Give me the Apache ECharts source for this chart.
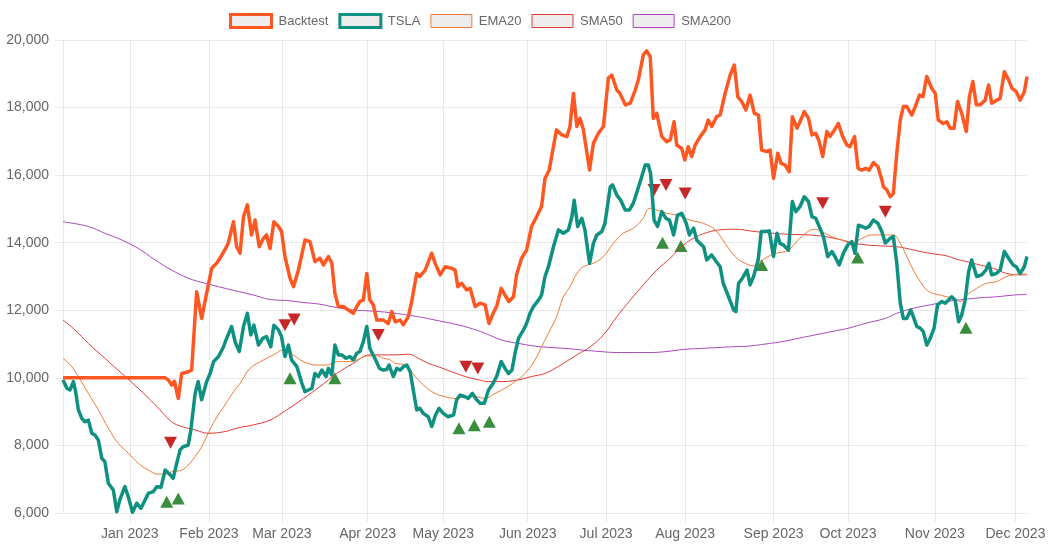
<!DOCTYPE html>
<html>
<head>
<meta charset="utf-8">
<script src="https://cdn.jsdelivr.net/npm/echarts@6/dist/echarts.min.js"></script>
<style>
  html, body { margin: 0; padding: 0; background: #fff; }
  #main { width: 1051px; height: 550px; }
</style>
</head>
<body>
<div id="main"></div>
<script>
// x = trading day index (0 = 6 Dec 2022 ... 251 = 6 Dec 2023)
var monthPos = [17.4, 38, 57, 79.3, 99, 121, 141.4, 162, 185, 204.4, 227, 248];
var monthLabels = ['Jan 2023', 'Feb 2023', 'Mar 2023', 'Apr 2023', 'May 2023', 'Jun 2023',
                   'Jul 2023', 'Aug 2023', 'Sep 2023', 'Oct 2023', 'Nov 2023', 'Dec 2023'];

var backtest = [[0,10000],[26.6,10000],[27.4,9940],[28.3,9790],[29,9900],[30,9390],[30.9,10130],[32.6,10180],[33.5,10230],[34.8,12550],[36.1,11760],[37.4,12500],[38.7,13240],[40,13390],
  [41.2,13600],[42.2,13800],[43,13980],[44.4,14620],[45.2,13880],[46.1,13690],[47,14770],[48,15120],[49.1,14230],[50,14670],[51.1,13880],[52.2,14130],[53,14230],[53.9,13830],[54.9,14620],[56.1,14480],[56.9,14330],[57.8,13590],[59.1,12950],[60,12700],[61.3,13190],[63,14080],[64.3,14030],[65.6,13440],[66.9,13540],[67.8,13340],[69.1,13590],[70,13390],[70.8,12500],[71.7,12110],[73,12110],[74.3,12010],[75.6,11910],[76.5,12110],[77.3,12260],[78.2,12300],[79.1,13090],[79.9,12300],[80.8,12160],[81.7,11710],[83.4,11710],
  [84.7,11610],[85.6,11960],[86.5,11660],[87.8,11710],[88.6,11570],[89.9,11810],[90.7,12210],[92.1,13090],[92.9,13000],[94.3,13190],[96,13690],[96.9,13390],[98.2,13050],[99.5,13290],[101.2,13240],[102.1,13190],[102.8,12700],[103.8,12800],[105.1,12600],[106,12650],[107.3,12110],[108.6,12210],[109.9,12160],[110.9,11610],[112,11910],[112.9,12110],[114.1,12650],[115.1,12450],[116.1,12260],[117.3,12400],[118.1,13050],[119.4,13540],[120.7,13780],[122,14480],[123.3,14770],[124.6,15070],[125.5,15900],[126.6,16150],[127.3,16600],
  [128.5,17340],[129.9,17190],[131.2,17140],[132,17440],[132.9,18420],[133.8,17440],[134.6,17680],[135.5,17340],[137.1,16150],[138.1,16940],[139.4,17240],[140.7,17440],[142,18870],[142.9,18960],[144.2,18520],[145,18420],[146.4,18080],[147.7,18130],[149,18520],[149.8,18820],[151.1,19560],[152,19680],[152.9,19510],[153.7,17680],[154.6,17830],[155.9,17140],[157.2,16990],[158.1,17040],[159.1,17580],[159.8,16890],[161.1,16790],[161.9,16450],[162.8,16840],[163.7,16550],[164.6,16890],[165.9,17140],[167.2,17340],[168,17630],[168.9,17440],[170.2,17730],
  [171.1,17780],[172.4,18420],[173.7,18960],[174.8,19260],[175.7,18320],[176.7,18180],[177.8,17930],[178.9,18370],[180,17830],[181.1,17780],[181.9,16740],[183.2,16700],[184.1,16740],[185,15910],[186.1,16650],[187,16350],[188,16300],[189.1,16100],[189.9,17730],[191.1,17390],[191.9,17580],[193,17880],[194.1,17680],[195,17190],[196,17240],[196.9,16990],[197.8,16550],[198.9,17290],[199.7,17140],[200.6,17290],[201.9,17530],[203,17140],[204.1,16890],[204.9,16840],[206.1,17140],[207,16200],[208,16150],[209,16200],[209.9,16150],[211,16370],[212.2,16250],[213.2,15860],
  [213.6,15660],[214.5,15560],[215.4,15360],[216.2,15460],[217.1,16650],[218,17630],[218.8,18030],[219.7,18030],[221,17780],[221.9,18030],[223,18370],[223.9,18320],[224.9,18920],[226.2,18570],[227.1,18420],[227.9,17630],[229.2,17530],[230.1,17580],[231,17390],[232,17390],[232.9,18180],[234,17830],[235.2,17290],[236,18320],[236.9,18770],[237.8,18080],[238.8,18080],[240.1,18220],[241,18670],[241.8,18130],[243.1,18220],[244,18270],[245.1,19060],[246.2,18820],[247.1,18570],[248.2,18470],[249.2,18220],[250.3,18470],[251,18920]];

var tsla = [[0,9940],[1,9690],[1.8,9640],[2.7,9890],[3.3,9590],[4,9050],[4.9,8800],[5.7,8700],[6.6,8750],[7.5,8360],[8.3,8310],[9.2,8160],[10.1,7620],[10.9,7520],[11.8,6880],[13.1,6680],[14,6040],[14.8,6390],[16.1,6780],[17,6480],[18.1,6020],[19.2,6290],[20.3,6140],[21.4,6390],[22.2,6580],[23.5,6630],[24.4,6780],[25.5,6760],[26.6,7270],[27.9,7130],[28.7,7030],[29.6,7470],[30.5,7870],[31.3,7960],[32.6,8010],[33.3,8460],[34.4,9540],[35.2,9890],[36.1,9350],[37.4,9890],[38.3,10130],[39.2,10480],[40.5,10630],
  [41.8,10920],[42.6,11170],[43.9,11520],[44.8,11070],[45.9,10780],[47,11520],[48,11910],[48.9,11270],[49.7,11560],[50.9,10970],[52,11170],[53,11220],[54.1,10920],[54.9,11560],[56.1,11420],[56.9,11220],[57.8,10630],[58.7,10970],[59.5,10530],[60.9,10330],[62.2,9840],[63,9590],[63.9,9640],[64.8,9690],[65.6,10130],[66.5,10040],[67.4,10230],[68.5,10040],[69.1,10280],[70,10090],[70.8,10970],[71.7,10680],[72.6,10680],[73.7,10580],[74.7,10630],[75.6,10530],[76.5,10730],[77.3,10780],[78.2,11070],[79.1,11520],[79.9,10870],[81.2,10580],[82.4,10280],[83.4,10230],[84.3,10250],
  [84.9,10380],[86,10040],[86.9,10280],[87.8,10230],[88.6,10330],[89.5,10380],[90.4,10180],[91.2,9640],[92.1,9050],[92.9,9100],[93.8,8950],[95.1,8850],[96,8560],[97,8900],[97.9,9100],[99,8950],[100.2,8850],[101.7,8900],[102.5,9350],[103.4,9490],[104.7,9440],[105.5,9390],[106.6,9540],[107.7,9350],[108.6,9250],[109.7,9250],[110.8,9640],[112,9840],[112.9,10040],[114.1,10480],[115.1,10280],[116,10130],[116.9,10230],[117.7,10730],[118.6,11170],[119.9,11420],[120.7,11610],[121.6,11910],[122.5,12110],[123.8,12300],[124.6,12450],[125.5,13000],[126.4,13290],[127.7,13880],[129,14380],
  [130.3,14280],[131.6,14380],[132.5,14770],[133.1,15260],[134,14480],[135.1,14720],[135.9,14380],[137.1,13390],[138.1,13980],[139,14230],[140.3,14330],[141.1,14570],[142.5,15660],[143.1,15710],[144.2,15410],[145.2,15260],[146.4,14970],[147.5,14970],[148.5,15170],[149.6,15560],[150.7,15960],[151.6,16300],[152.4,16300],[153,16050],[153.9,14670],[154.8,14480],[155.9,14920],[157,14720],[157.9,14670],[159,14230],[160,14820],[161.1,14870],[162.3,14570],[163.1,14230],[164.2,14430],[165,14080],[165.9,13980],[166.8,13880],[167.6,13490],[168.9,13640],[169.8,13490],
  [171.1,13290],[171.9,12800],[173.3,12400],[174.6,12010],[175.2,11960],[175.9,12800],[176.9,12950],[178.1,13190],[178.9,12750],[179.8,13000],[181,13490],[181.8,14330],[182.8,14330],[183.9,14350],[185,13590],[185.9,14280],[186.7,13980],[187.6,13930],[188.9,13780],[189.9,15220],[190.8,14920],[191.9,15070],[193,15360],[194.1,15220],[195,14770],[196,14720],[197.1,14430],[198,14180],[199.1,13590],[200.2,13740],[201,13590],[202.1,13340],[203.2,13690],[204.3,13930],[205.4,14030],[206.2,13690],[207.1,14520],[208,14480],[209,14430],[209.9,14480],[211,14670],[212.2,14570],[213.2,14330],
  [214.1,13990],[215.4,14130],[216.2,14180],[217.1,13390],[218,12210],[218.8,11760],[219.7,11760],[220.7,12010],[221.4,11810],[222.3,11520],[223.2,11470],[224,11370],[224.9,10970],[225.8,11170],[226.8,11470],[227.7,12160],[228.8,12260],[229.7,12210],[230.5,12300],[231.4,12400],[232.3,12300],[233.2,11660],[234,11860],[234.9,12300],[235.8,13140],[236.6,13490],[237.9,13000],[239.2,13050],[240.3,13190],[241.1,13390],[241.8,13050],[243,13090],[244,13190],[245.1,13740],[246.2,13540],[247.4,13340],[248.2,13290],[249.2,13090],[250.3,13290],[251,13590]];

var ema20 = [[0,10580],[2.3,10330],[4,10040],[6.6,9540],[9.2,9050],[11.8,8510],[14.4,8060],[17,7770],[19.6,7470],[22.2,7270],[24.8,7150],[26.6,7150],[28.3,7220],[30.9,7270],[32.6,7420],[34.4,7670],[36.1,7960],[37.8,8360],[39.6,8750],[42.2,9200],[44.4,9590],[46.1,9840],[48.7,10280],[52.2,10530],[55.6,10730],[56.9,10820],[59.9,10680],[62.6,10480],[66,10380],[68.6,10380],[71.3,10480],[73.9,10480],[76.5,10530],[79.1,10650],[81.7,10650],[83.4,10580],[85.2,10530],[86.5,10430],[89.1,10380],[91.7,10040],[94.3,9740],[96.9,9540],[99.5,9440],[102.1,9390],[104.7,9440],[107.3,9440],[109.9,9390],[112.5,9540],[115.1,9690],[117.7,9890],[120.3,10130],[122.9,10530],[124.6,10920],[126.4,11320],[128.5,11810],[130.3,12400],[132,12700],[133.8,13090],[135.5,13290],[138.1,13390],[140.7,13590],[143.3,13980],[145.9,14280],[148.5,14430],[150.7,14670],[152.9,15020],[154.6,14970],[157.2,14870],[159.8,14820],[163.3,14670],[166.8,14570],[169.8,14380],[172.4,13980],[175,13590],[177.6,13390],[180.2,13310],[182.8,13540],[185.8,13690],[188.9,13780],[192.3,14180],[195.8,14400],[197.6,14330],[200.2,14180],[202.8,14080],[205.4,13980],[208,14130],[210.6,14230],[214.1,14230],[216.2,14230],[218,13980],[219.7,13590],[221.4,13190],[223.2,12850],[224.9,12600],[226.6,12500],[228.4,12450],[230.1,12400],[231.8,12380],[233.6,12260],[235.3,12450],[237.9,12650],[240.5,12800],[243.1,12850],[245.7,13000],[247.5,13050],[249.2,13070],[251,13070]];

var sma50 = [[0,11710],[3.1,11420],[6.6,11020],[10.9,10580],[15.3,10130],[19.6,9690],[24,9200],[28.3,8700],[30.9,8560],[34.4,8460],[37.8,8360],[42.2,8410],[45.2,8510],[49.6,8610],[53.9,8750],[58.2,9050],[62.6,9390],[66.9,9740],[71.3,10130],[75.6,10430],[79.9,10680],[83.5,10680],[86.5,10680],[90,10700],[92.5,10580],[95.1,10430],[97.7,10330],[101.2,10180],[104.7,10040],[108.2,9940],[110.8,9890],[114.2,9890],[118.6,9940],[122,10040],[125.5,10130],[128.1,10280],[130.3,10430],[133.8,10680],[137.3,10920],[140.7,11270],[144.2,11810],[147.7,12300],[151.1,12750],[154.6,13190],[158.1,13540],[161.5,13930],[165,14180],[168.5,14330],[171.1,14380],[175,14400],[180.2,14330],[187.1,14260],[194.1,14230],[198.4,14180],[202.8,14080],[206.2,13980],[209.7,13930],[214.1,13900],[217.1,13880],[219.7,13830],[223.2,13740],[226.6,13670],[230.1,13610],[232.7,13510],[235.3,13440],[238.8,13340],[242.3,13240],[245.7,13090],[249.2,13050],[251,13050]];

var sma200 = [[0,14620],[6.6,14480],[10.9,14280],[15.3,14080],[19.6,13830],[24,13490],[28.3,13190],[32.6,12950],[37,12800],[42.2,12650],[49.6,12450],[53.9,12320],[58.2,12290],[62.6,12230],[66.9,12180],[71.3,12080],[75.6,12010],[79.9,11980],[85.2,11930],[92.5,11810],[96.9,11710],[101.2,11610],[105.5,11490],[109.9,11320],[114.2,11120],[118.6,11020],[122.9,10940],[128.1,10890],[131.2,10870],[135.5,10820],[139.8,10780],[144.2,10750],[148.5,10750],[152.9,10750],[157.2,10780],[161.5,10840],[165.9,10870],[171.1,10900],[174.1,10920],[178.4,10940],[182.8,11000],[187.1,11070],[191.4,11170],[195.8,11270],[200.1,11370],[204.5,11470],[208.8,11610],[214.1,11760],[217.1,11910],[221.4,12060],[225.8,12160],[230.1,12260],[234.4,12320],[238.8,12370],[243.1,12400],[247.5,12450],[251,12470]];

var sells = [[28,8080],[57.8,11560],[60.2,11730],[82.1,11270],[104.9,10330],[108,10280],[153.9,15560],[157,15710],[162,15460],[197.8,15170],[214.1,14920]];
var buys = [[27,6330],[30,6430],[59.1,9990],[70.8,9990],[103.1,8510],[107.1,8600],[111,8700],[156.1,14000],[160.9,13900],[181.9,13340],[206.9,13560],[235.1,11480]];

var gridColor = '#e9e9e9';
var font = 'Arial, "Liberation Sans", Helvetica, sans-serif';

function legendItem(name, color, width) {
  return {name: name, itemStyle: {color: 'rgba(0,0,0,0.07)', borderColor: color, borderWidth: width}};
}

var chart = echarts.init(document.getElementById('main'));
var option = {
  animation: false,
  textStyle: {fontFamily: font},
  legend: {
    left: 229,
    top: 13,
    padding: 0,
    icon: 'rect',
    itemWidth: 41,
    itemHeight: 13,
    itemGap: 10,
    textStyle: {color: '#666', fontSize: 13, fontFamily: font, padding: [0, 0, 0, 2]},
    data: [
      legendItem('Backtest', '#ff5722', 3),
      legendItem('TSLA', '#0e9180', 3),
      legendItem('EMA20', '#ef7a35', 1),
      legendItem('SMA50', '#e53935', 1),
      legendItem('SMA200', '#ab47bc', 1)
    ]
  },
  grid: {left: 63, right: 24, top: 40, bottom: 37},
  xAxis: {
    type: 'value',
    min: 0,
    max: 251,
    axisLine: {show: true, lineStyle: {color: gridColor}},
    axisTick: {show: true, length: 9, customValues: monthPos, lineStyle: {color: gridColor}},
    splitLine: {show: true, lineStyle: {color: gridColor}},
    axisLabel: {
      customValues: monthPos,
      color: '#666',
      fontSize: 14,
      margin: 14,
      formatter: function (v) {
        var best = 0;
        for (var k = 0; k < monthPos.length; k++) {
          if (Math.abs(monthPos[k] - v) < Math.abs(monthPos[best] - v)) { best = k; }
        }
        return monthLabels[best];
      }
    }
  },
  yAxis: {
    type: 'value',
    min: 6000,
    max: 20000,
    interval: 2000,
    axisLine: {show: true, lineStyle: {color: gridColor}},
    axisTick: {show: true, length: 8, lineStyle: {color: gridColor}},
    splitLine: {lineStyle: {color: gridColor}},
    axisLabel: {color: '#666', fontSize: 14, margin: 14}
  },
  series: [
    {name: 'SMA200', type: 'line', data: sma200, smooth: 0.4, showSymbol: false,
     lineStyle: {color: '#ab47bc', width: 1}, itemStyle: {color: '#ab47bc'}},
    {name: 'SMA50', type: 'line', data: sma50, smooth: 0.4, showSymbol: false,
     lineStyle: {color: '#e53935', width: 1}, itemStyle: {color: '#e53935'}},
    {name: 'EMA20', type: 'line', data: ema20, smooth: 0.4, showSymbol: false,
     lineStyle: {color: '#ef7a35', width: 1}, itemStyle: {color: '#ef7a35'}},
    {name: 'TSLA', type: 'line', data: tsla, showSymbol: false,
     lineStyle: {color: '#0e9180', width: 3.5, join: 'round'}, itemStyle: {color: '#0e9180'}},
    {name: 'Backtest', type: 'line', data: backtest, showSymbol: false,
     lineStyle: {color: '#ff5722', width: 3.5, join: 'round'}, itemStyle: {color: '#ff5722'}},
    {name: 'Sell', type: 'scatter', data: sells, symbol: 'triangle', symbolRotate: 180,
     symbolSize: [13, 12], itemStyle: {color: '#c62828', opacity: 1}},
    {name: 'Buy', type: 'scatter', data: buys, symbol: 'triangle',
     symbolSize: [13, 12], itemStyle: {color: '#388e3c', opacity: 1}}
  ]
};
chart.setOption(option);
</script>
</body>
</html>
